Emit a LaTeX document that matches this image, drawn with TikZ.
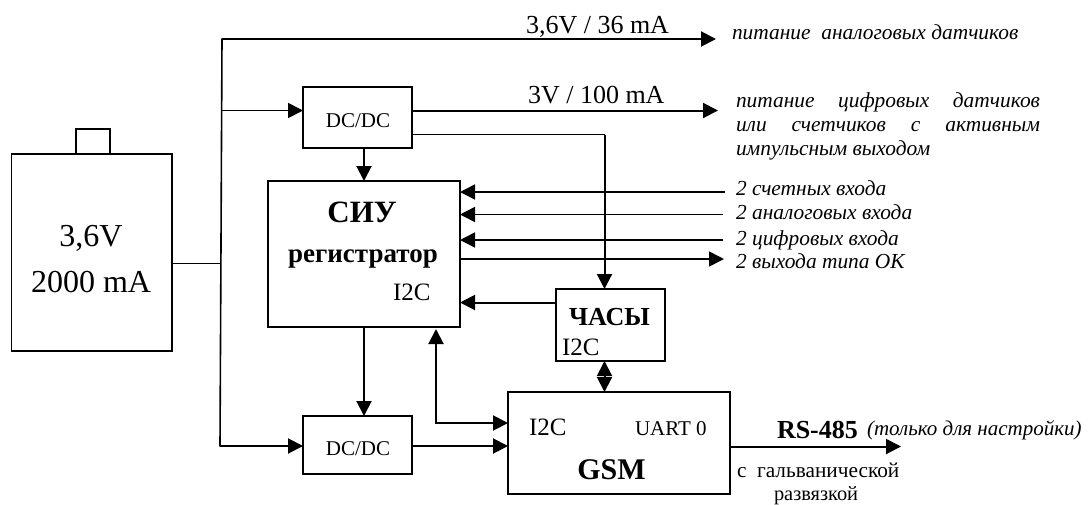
\documentclass[tikz,border=0pt]{standalone}
\usepackage{fontspec}
\setmainfont{Liberation Serif}
\usetikzlibrary{arrows.meta,calc}
\newcommand{\fsz}[1]{\fontsize{#1}{#1}\selectfont}
\tikzset{
  box/.style={draw=black,line width=1.8pt,fill=none,inner sep=0pt,outer sep=0pt},
  lab/.style={inner sep=0pt,outer sep=0pt,anchor=base west,text=black},
  labc/.style={inner sep=0pt,outer sep=0pt,anchor=base,text=black},
  wire/.style={draw=black,line width=2pt},
  thinwire/.style={draw=black,line width=1.6pt},
  arr/.style={wire,-{Triangle[length=15pt,width=15pt]}},
  tarr/.style={thinwire,-{Triangle[length=15pt,width=15pt]}},
  barr/.style={wire,{Triangle[length=15pt,width=15pt]}-{Triangle[length=15pt,width=15pt]}},
  note/.style={lab,font=\fsz{21.4}\itshape},
}
\begin{document}
\begin{tikzpicture}[x=1pt,y=-1pt]
\useasboundingbox (0,0) rectangle (1089,504);
% boxes
\node[box,minimum width=160.5pt,minimum height=197pt] (bat) at (91.75,252.5) {};
\node[box,minimum width=34pt,minimum height=25pt,anchor=south] (cap) at (93,154) {};
\node[box,minimum width=109pt,minimum height=61pt] (dca) at (357.5,117.5) {};
\node[box,minimum width=109pt,minimum height=58pt] (dcb) at (357.5,445) {};
\node[box,minimum width=192pt,minimum height=146pt] (siu) at (364,254) {};
\node[box,minimum width=109pt,minimum height=72pt] (clk) at (610.5,325) {};
\node[box,minimum width=222pt,minimum height=102pt] (gsm) at (619,443) {};
% free ends and junctions
\coordinate (bustop) at (222,39);
\coordinate (busbot) at (220,446);
\coordinate (busmid) at (221,263.5);
\coordinate (busdc) at (221.5,110.5);
\coordinate (outa) at (716,39);
\coordinate (outb) at (718,110.5);
\coordinate (clkfeed) at (604.5,134.5);
\coordinate (ina) at (725,192);
\coordinate (inb) at (723,214.5);
\coordinate (inc) at (723,240);
\coordinate (outd) at (724,259);
\coordinate (outrs) at (901,446.5);
\coordinate (clkout) at (556,302.5);
\coordinate (i2ctop) at (436,329);
\coordinate (i2cup) at (436,423);
% wires
\draw[thinwire] (bat.east |- busmid) -- (busmid);
\draw[arr] (bustop) -- (outa);
\draw[thinwire,line cap=round] (bustop) -- (busbot);
\draw[tarr] (busdc) -- (dca.west |- busdc);
\draw[arr] (busbot) -- (dcb.west |- busbot);
\draw[arr] (dca.east |- outb) -- (outb);
\draw[thinwire] (dca.east |- clkfeed) -- (clkfeed);
\draw[arr] (clkfeed) -- (clkfeed |- clk.north);
\draw[arr] (siu.north |- dca.south) -- (siu.north);
\draw[arr] (siu.south) -- (siu.south |- dcb.north);
\draw[arr] (dcb.east |- busbot) -- (gsm.west |- busbot);
\draw[tarr] (ina) -- (siu.east |- ina);
\draw[tarr] (inb) -- (siu.east |- inb);
\draw[tarr] (inc) -- (siu.east |- inc);
\draw[tarr] (siu.east |- outd) -- (outd);
\draw[arr] (clkout) -- (siu.east |- clkout);
\draw[barr] (i2ctop) -- (i2cup) -- (gsm.west |- i2cup);
\draw[barr] (clkfeed |- clk.south) -- (clkfeed |- gsm.north);
\draw[arr] (gsm.east |- outrs) -- (outrs);
% labels
\node[labc,font=\fsz{32}] (tbata) at (91,246) {3,6V};
\node[labc,font=\fsz{32}] (tbatb) at (91,292) {2000 mA};
\node[labc,font=\fsz{21}] (tdca) at (358,127) {DC/DC};
\node[labc,font=\fsz{21}] (tdcb) at (358,455) {DC/DC};
\node[labc,font=\fsz{31}\bfseries] (tsiu) at (362,222) {СИУ};
\node[labc,font=\fsz{27}\bfseries] (treg) at (363,262) {регистратор};
\node[lab,font=\fsz{25}] (ti2ca) at (393,300) {I2C};
\node[lab,font=\fsz{26}\bfseries] (tclk) at (569,325) {ЧАСЫ};
\node[lab,font=\fsz{25}] (ti2cb) at (562,355) {I2C};
\node[lab,font=\fsz{25}] (ti2cc) at (529,435) {I2C};
\node[lab,font=\fsz{21}] (tuart) at (635,435) {UART 0};
\node[labc,font=\fsz{30}\bfseries] (tgsm) at (611.5,479) {GSM};
\node[lab,font=\fsz{26}] (tva) at (526,33) {3,6V / 36 mA};
\node[lab,font=\fsz{26}] (tvb) at (528,103) {3V / 100 mA};
\node[note] (na) at (732,39) {питание\ \ аналоговых датчиков};
\node[note,text width=304pt] (nb1) at (736,107) {питание\hfill цифровых\hfill датчиков};
\node[note,text width=304pt] (nb2) at (736,131) {или\hfill счетчиков\hfill с\hfill активным};
\node[note] (nb3) at (736,155) {импульсным выходом};
\node[note] (nc1) at (736,195) {2 счетных входа};
\node[note] (nc2) at (736,219) {2 аналоговых входа};
\node[note] (nc3) at (736,245) {2 цифровых входа};
\node[note] (nc4) at (736,268) {2 выхода типа ОК};
\node[lab,font=\fsz{26}\bfseries] (trs) at (777,438) {RS-485};
\node[lab,font=\fsz{21}\itshape] (tnas) at (867,435) {(только для настройки)};
\node[lab,font=\fsz{21.3}] (tgal) at (737,477.5) {с\ \ гальванической};
\node[lab,font=\fsz{20.4}] (trazv) at (774,500) {развязкой};
\end{tikzpicture}
\end{document}
